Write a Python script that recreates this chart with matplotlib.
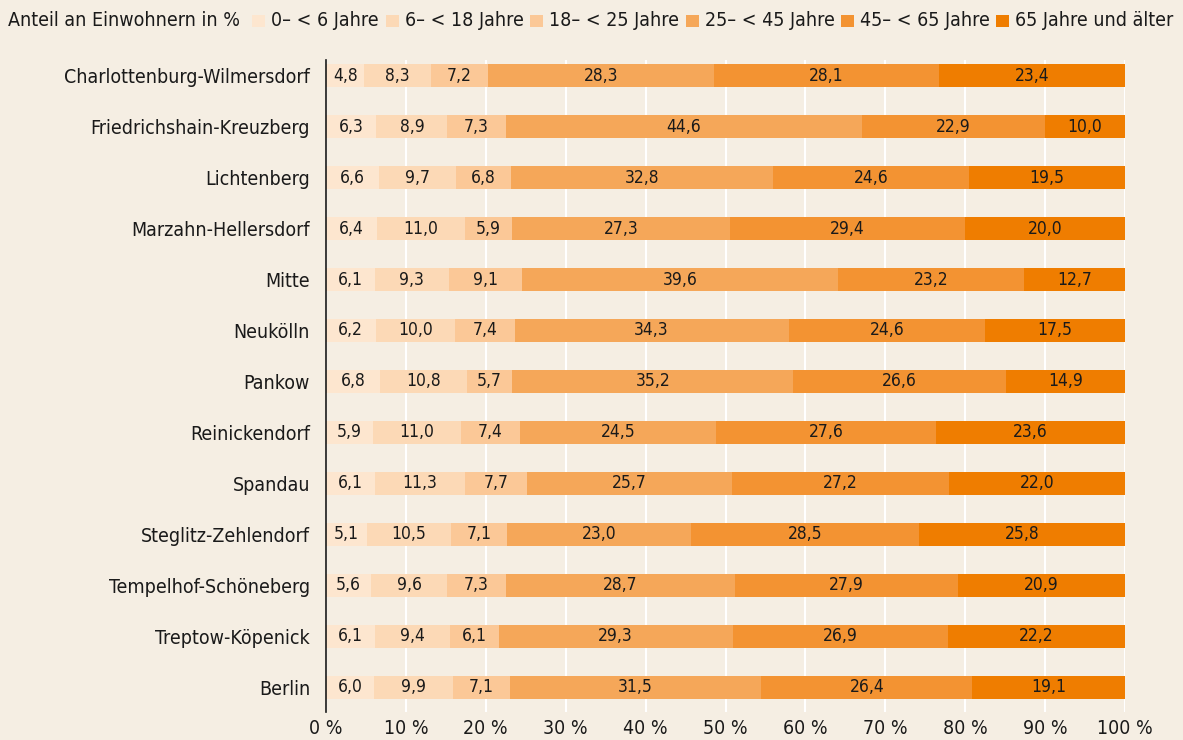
import matplotlib
matplotlib.use("Agg")
import matplotlib.pyplot as plt
from matplotlib.patches import Rectangle

plt.rcParams['font.family'] = ['DejaVu Sans']
plt.rcParams['font.stretch'] = 'condensed'

districts = ["Charlottenburg-Wilmersdorf", "Friedrichshain-Kreuzberg", "Lichtenberg",
             "Marzahn-Hellersdorf", "Mitte", "Neukölln", "Pankow", "Reinickendorf",
             "Spandau", "Steglitz-Zehlendorf", "Tempelhof-Schöneberg", "Treptow-Köpenick",
             "Berlin"]
groups = ["0– < 6 Jahre", "6– < 18 Jahre", "18– < 25 Jahre", "25– < 45 Jahre",
          "45– < 65 Jahre", "65 Jahre und älter"]
age_0_6 = [4.8, 6.3, 6.6, 6.4, 6.1, 6.2, 6.8, 5.9, 6.1, 5.1, 5.6, 6.1, 6.0]
age_6_18 = [8.3, 8.9, 9.7, 11.0, 9.3, 10.0, 10.8, 11.0, 11.3, 10.5, 9.6, 9.4, 9.9]
age_18_25 = [7.2, 7.3, 6.8, 5.9, 9.1, 7.4, 5.7, 7.4, 7.7, 7.1, 7.3, 6.1, 7.1]
age_25_45 = [28.3, 44.6, 32.8, 27.3, 39.6, 34.3, 35.2, 24.5, 25.7, 23.0, 28.7, 29.3, 31.5]
age_45_65 = [28.1, 22.9, 24.6, 29.4, 23.2, 24.6, 26.6, 27.6, 27.2, 28.5, 27.9, 26.9, 26.4]
age_65 = [23.4, 10.0, 19.5, 20.0, 12.7, 17.5, 14.9, 23.6, 22.0, 25.8, 20.9, 22.2, 19.1]
series = [age_0_6, age_6_18, age_18_25, age_25_45, age_45_65, age_65]
colors = ["#FDE6CF", "#FCD9B6", "#FBC897", "#F5A759", "#F39332", "#EF7D00"]
xticks = [0, 10, 20, 30, 40, 50, 60, 70, 80, 90, 100]

W, H = 1183, 740
bg = "#F5EEE3"
txt = "#1a1a1a"
fig = plt.figure(figsize=(W/100, H/100), dpi=100, facecolor=bg)
ax = fig.add_axes([326/W, 1-712/H, (1125-326)/W, (712-60)/H])
ax.set_facecolor(bg)

ypos = list(range(len(districts)))
left = [0.0]*len(districts)
for vals, col, name in zip(series, colors, groups):
    ax.barh(ypos, vals, left=left, height=0.45, color=col, zorder=2, label=name)
    for y, l, v in zip(ypos, left, vals):
        ax.text(l + v/2, y, f"{v:.1f}".replace(".", ","), ha="center", va="center",
                fontsize=12.5, color=txt, zorder=3)
    left = [a + b for a, b in zip(left, vals)]

ax.set_xlim(0, 100)
ax.set_ylim(12.49, -0.31)
ax.set_xticks(xticks)
ax.set_xticklabels([f"{t} %" for t in xticks], fontsize=14)
ax.set_yticks(ypos)
ax.set_yticklabels(districts, fontsize=14)
ax.tick_params(axis="both", length=0, colors=txt)
ax.tick_params(axis="y", pad=11.5)
ax.tick_params(axis="x", pad=5)
ax.grid(axis="x", color="white", linewidth=1.5, zorder=0)
for s in ["top", "right", "bottom"]:
    ax.spines[s].set_visible(False)
ax.spines["left"].set_color(txt)
ax.spines["left"].set_linewidth(1.2)
ax.spines["left"].set_zorder(4)

# legend row (manual layout)
ly = 21
fig.text(8/W, 1-ly/H, "Anteil an Einwohnern in %", fontsize=14, va="center", ha="left", color=txt)
sq_x = [252, 386, 530, 686, 841, 996]
for x, c, g in zip(sq_x, colors, groups):
    fig.patches.append(Rectangle((x/W, 1-27/H), 13/W, 12/H, transform=fig.transFigure,
                                 facecolor=c, edgecolor="none"))
    fig.text((x+19)/W, 1-ly/H, g, fontsize=14, va="center", ha="left", color=txt)

fig.savefig("out.png", dpi=100, facecolor=bg)
